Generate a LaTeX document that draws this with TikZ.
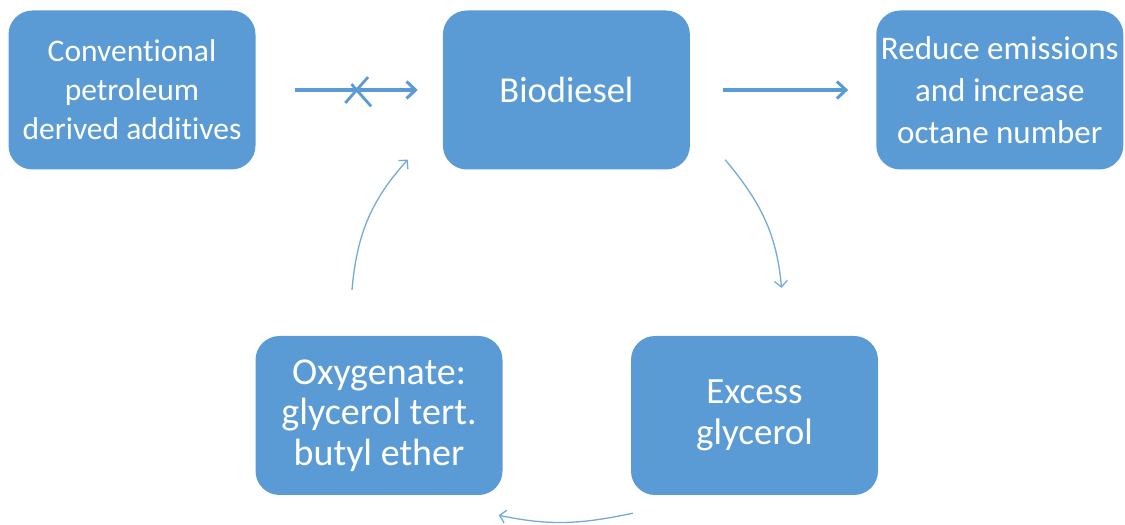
\documentclass[tikz,border=0pt]{standalone}
\usepackage{fontspec}
\setmainfont[Ligatures=NoCommon]{Carlito}
\usetikzlibrary{positioning, arrows.meta, shapes.misc}
\definecolor{officeblue}{HTML}{5B9BD5}
\newcommand{\boxsize}[2]{\fontsize{#1}{#2}\selectfont}

\begin{document}
\begin{tikzpicture}[
    x=1pt, y=1pt,
    node distance=187pt and 187pt,
    box/.style={rectangle, fill=officeblue, rounded corners=24pt,
                minimum width=247pt, minimum height=159pt, inner sep=0pt,
                align=center, text=white, font=\boxsize{33}{41}},
    thickarrow/.style={-{Straight Barb[length=9pt, width=17pt, line width=3pt]},
                       line width=4pt, draw=officeblue},
    thinarrow/.style={-{Straight Barb[length=6pt, width=13pt, line width=1.3pt]},
                      line width=1.3pt, draw=officeblue!85},
    crossmark/.style={cross out, draw=officeblue, line width=2.8pt,
                      minimum width=20pt, minimum height=23pt, inner sep=0pt}
]
  \useasboundingbox (0,0) rectangle (1125,525);

  % Top row
  \node[box, font=\boxsize{31.5}{39}] (conv) at (132,435)
    {Conventional\\petroleum\\derived additives};
  \node[box, font=\boxsize{36.5}{41}, right=of conv] (bio) {Biodiesel};
  \node[box, font=\boxsize{33}{42}, right=186pt of bio] (reduce)
    {Reduce emissions\\and increase\\octane number};

  % Bottom row
  \node[box, font=\boxsize{38}{40.5}] (oxy) at (379,109.5)
    {Oxygenate:\\glycerol tert.\\butyl ether};
  \node[box, font=\boxsize{37}{41}] (excess) at (754.5,109.5) {Excess\\glycerol};

  % Ends of the curved arrows
  \coordinate (bioout)    at ([shift={(35pt,10pt)}]bio.south east);
  \coordinate (excessin)  at ([shift={(27pt,48pt)}]excess.north);
  \coordinate (excessout) at ([shift={(2pt,-18pt)}]excess.south west);
  \coordinate (oxyin)     at ([shift={(-4pt,-20pt)}]oxy.south east);
  \coordinate (oxyout)    at ([shift={(-27pt,46pt)}]oxy.north);
  \coordinate (bioin)     at ([shift={(-35pt,10pt)}]bio.south west);

  % Straight arrows
  \draw[thickarrow, shorten <=39pt, shorten >=25pt] (conv.east) -- (bio.west)
    node[crossmark, pos=0.54] (blocked) {};
  \draw[thickarrow, shorten <=33pt, shorten >=28pt] (bio.east) -- (reduce.west);

  % Cycle
  \draw[thinarrow] (bioout) to[out=-50, in=95] (excessin);
  \draw[thinarrow] (excessout) to[out=192, in=-12] (oxyin);
  \draw[thinarrow] (oxyout) to[out=85, in=228] (bioin);
\end{tikzpicture}
\end{document}
